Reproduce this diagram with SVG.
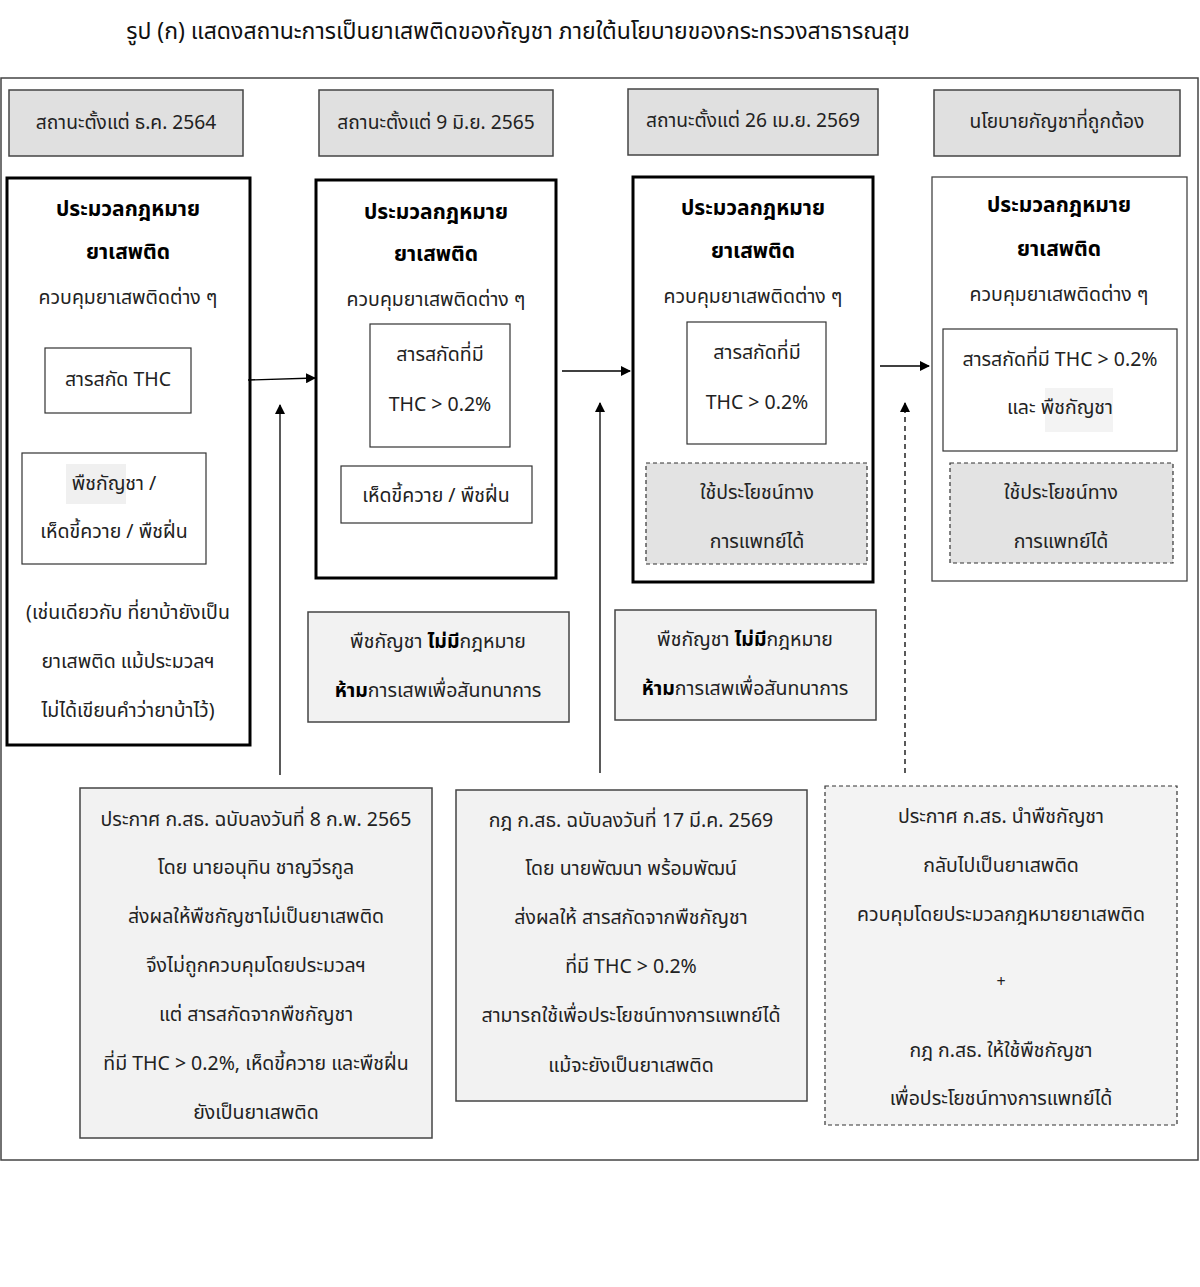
<svg xmlns="http://www.w3.org/2000/svg" width="1200" height="1287" viewBox="0 0 1200 1287">
<style>
text{font-family:"Noto Sans Thai","Noto Sans","DejaVu Sans",sans-serif;font-size:19.5px;fill:#222;text-anchor:middle;dominant-baseline:central}
.b{font-weight:bold;fill:#000;font-size:21px}
.t{font-size:23px;fill:#111}
.h{font-size:19.2px}
.hdr{fill:#e0e0e0;stroke:#444;stroke-width:1.5}
.main{fill:#fff;stroke:#000;stroke-width:3}
.thin{fill:#fff;stroke:#333;stroke-width:1.2}
.gray{fill:#f2f2f2;stroke:#444;stroke-width:1.5}
.dash{fill:#e3e3e3;stroke:#333;stroke-width:1.2;stroke-dasharray:4 3}
.dashw{fill:#f3f3f3;stroke:#333;stroke-width:1.2;stroke-dasharray:4 3}
.ln{stroke:#000;stroke-width:1.3;fill:none}
</style>
<defs>
<marker id="ah" viewBox="0 0 10 10" refX="9" refY="5" markerWidth="10" markerHeight="10" markerUnits="userSpaceOnUse" orient="auto">
<path d="M0,0 L10,5 L0,10 z" fill="#000"/>
</marker>
</defs>
<rect width="1200" height="1287" fill="#fff"/>
<text class="t" x="518" y="32">รูป (ก) แสดงสถานะการเป็นยาเสพติดของกัญชา ภายใต้นโยบายของกระทรวงสาธารณสุข</text>
<rect x="1" y="78" width="1197" height="1082" fill="none" stroke="#444" stroke-width="1.5"/>

<g id="hdr1"><rect class="hdr" x="9" y="90" width="234" height="66"/><text class="h" x="126" y="123">สถานะตั้งแต่ ธ.ค. 2564</text></g>
<g id="hdr2"><rect class="hdr" x="319" y="90" width="234" height="66"/><text class="h" x="436" y="123">สถานะตั้งแต่ 9 มิ.ย. 2565</text></g>
<g id="hdr3"><rect class="hdr" x="628" y="89" width="250" height="66" stroke-width="2"/><text class="h" x="753" y="121">สถานะตั้งแต่ 26 เม.ย. 2569</text></g>
<g id="hdr4"><rect class="hdr" x="934" y="90" width="246" height="66"/><text class="h" x="1057" y="122">นโยบายกัญชาที่ถูกต้อง</text></g>

<g id="box1">
<rect class="main" x="7" y="178" width="243" height="567"/>
<text class="b" x="128" y="209">ประมวลกฎหมาย</text>
<text class="b" x="128" y="252">ยาเสพติด</text>
<text x="128" y="298">ควบคุมยาเสพติดต่าง ๆ</text>
<rect class="thin" x="45" y="348" width="146" height="65"/>
<text x="118" y="380">สารสกัด THC</text>
<rect class="thin" x="22" y="453" width="184" height="111"/>
<rect x="66" y="464" width="60" height="40" fill="#f0f0f0"/>
<text x="114" y="484">พืชกัญชา /</text>
<text x="114" y="532">เห็ดขี้ควาย / พืชฝิ่น</text>
<text x="128" y="613">(เช่นเดียวกับ ที่ยาบ้ายังเป็น</text>
<text x="128" y="662">ยาเสพติด แม้ประมวลฯ</text>
<text x="128" y="711">ไม่ได้เขียนคำว่ายาบ้าไว้)</text>
</g>

<g id="box2">
<rect class="main" x="316" y="180" width="240" height="398"/>
<text class="b" x="436" y="212">ประมวลกฎหมาย</text>
<text class="b" x="436" y="254">ยาเสพติด</text>
<text x="436" y="300">ควบคุมยาเสพติดต่าง ๆ</text>
<rect class="thin" x="370" y="324" width="140" height="123"/>
<text x="440" y="355">สารสกัดที่มี</text>
<text x="440" y="405">THC &gt; 0.2%</text>
<rect class="thin" x="341" y="466" width="191" height="57"/>
<text x="436" y="496">เห็ดขี้ควาย / พืชฝิ่น</text>
</g>

<g id="box3">
<rect class="main" x="633" y="177" width="240" height="405"/>
<text class="b" x="753" y="208">ประมวลกฎหมาย</text>
<text class="b" x="753" y="251">ยาเสพติด</text>
<text x="753" y="297">ควบคุมยาเสพติดต่าง ๆ</text>
<rect class="thin" x="687" y="322" width="139" height="122"/>
<text x="757" y="353">สารสกัดที่มี</text>
<text x="757" y="403">THC &gt; 0.2%</text>
<rect class="dash" x="646" y="463" width="221" height="101"/>
<text x="757" y="493">ใช้ประโยชน์ทาง</text>
<text x="757" y="542">การแพทย์ได้</text>
</g>

<g id="box4">
<rect x="932" y="177" width="255" height="404" fill="#fff" stroke="#444" stroke-width="1.3"/>
<text class="b" x="1059" y="205">ประมวลกฎหมาย</text>
<text class="b" x="1059" y="249">ยาเสพติด</text>
<text x="1059" y="295">ควบคุมยาเสพติดต่าง ๆ</text>
<rect class="thin" x="943" y="329" width="234" height="122"/>
<rect x="1045" y="388" width="68" height="44" fill="#f3f3f3"/>
<text x="1060" y="360">สารสกัดที่มี THC &gt; 0.2%</text>
<text x="1060" y="408">และ พืชกัญชา</text>
<rect class="dash" x="950" y="463" width="223" height="100"/>
<text x="1061" y="493">ใช้ประโยชน์ทาง</text>
<text x="1061" y="542">การแพทย์ได้</text>
</g>

<g id="note1">
<rect class="gray" x="308" y="612" width="261" height="110"/>
<text x="438" y="642">พืชกัญชา <tspan class="b" style="font-size:19.5px">ไม่มี</tspan>กฎหมาย</text>
<text x="438" y="691"><tspan class="b" style="font-size:19.5px">ห้าม</tspan>การเสพเพื่อสันทนาการ</text>
</g>
<g id="note2">
<rect class="gray" x="615" y="610" width="261" height="110"/>
<text x="745" y="640">พืชกัญชา <tspan class="b" style="font-size:19.5px">ไม่มี</tspan>กฎหมาย</text>
<text x="745" y="689"><tspan class="b" style="font-size:19.5px">ห้าม</tspan>การเสพเพื่อสันทนาการ</text>
</g>

<g id="law1">
<rect class="gray" x="80" y="788" width="352" height="350"/>
<text x="256" y="820">ประกาศ ก.สธ. ฉบับลงวันที่ 8 ก.พ. 2565</text>
<text x="256" y="868">โดย นายอนุทิน ชาญวีรกูล</text>
<text x="256" y="917">ส่งผลให้พืชกัญชาไม่เป็นยาเสพติด</text>
<text x="256" y="966">จึงไม่ถูกควบคุมโดยประมวลฯ</text>
<text x="256" y="1015">แต่ สารสกัดจากพืชกัญชา</text>
<text x="256" y="1064">ที่มี THC &gt; 0.2%, เห็ดขี้ควาย และพืชฝิ่น</text>
<text x="256" y="1113">ยังเป็นยาเสพติด</text>
</g>
<g id="law2">
<rect class="gray" x="456" y="790" width="351" height="311"/>
<text x="631" y="821">กฎ ก.สธ. ฉบับลงวันที่ 17 มี.ค. 2569</text>
<text x="631" y="869">โดย นายพัฒนา พร้อมพัฒน์</text>
<text x="631" y="918">ส่งผลให้ สารสกัดจากพืชกัญชา</text>
<text x="631" y="967">ที่มี THC &gt; 0.2%</text>
<text x="631" y="1016">สามารถใช้เพื่อประโยชน์ทางการแพทย์ได้</text>
<text x="631" y="1066">แม้จะยังเป็นยาเสพติด</text>
</g>
<g id="law3">
<rect class="dashw" x="825" y="786" width="352" height="339"/>
<text x="1001" y="817">ประกาศ ก.สธ. นำพืชกัญชา</text>
<text x="1001" y="866">กลับไปเป็นยาเสพติด</text>
<text x="1001" y="915">ควบคุมโดยประมวลกฎหมายยาเสพติด</text>
<text x="1001" y="982" style="font-size:16px">+</text>
<text x="1001" y="1051">กฎ ก.สธ. ให้ใช้พืชกัญชา</text>
<text x="1001" y="1099">เพื่อประโยชน์ทางการแพทย์ได้</text>
</g>

<g id="connectors">
<line class="ln" x1="248" y1="380" x2="315" y2="378" marker-end="url(#ah)"/>
<line class="ln" x1="562" y1="371" x2="630" y2="371" marker-end="url(#ah)"/>
<line class="ln" x1="880" y1="366" x2="929" y2="366" marker-end="url(#ah)"/>
<line class="ln" x1="280" y1="775" x2="280" y2="405" marker-end="url(#ah)"/>
<line class="ln" x1="600" y1="773" x2="600" y2="403" marker-end="url(#ah)"/>
<line class="ln" x1="905" y1="773" x2="905" y2="403" stroke-dasharray="5 4" marker-end="url(#ah)"/>
</g>
</svg>
